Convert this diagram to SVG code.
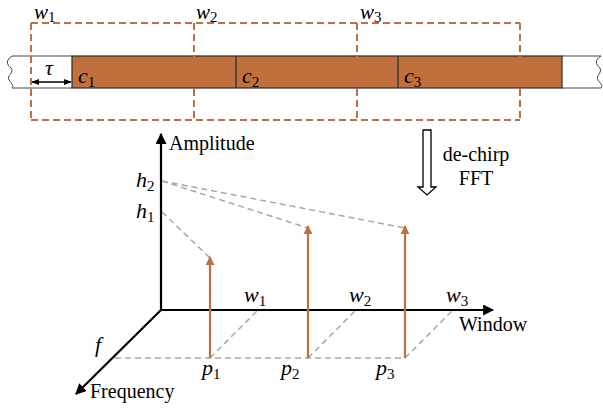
<svg xmlns="http://www.w3.org/2000/svg" width="603" height="411" viewBox="0 0 603 411">
<style>
.win{fill:none;stroke:#C07040;stroke-width:2;stroke-dasharray:7 4}
.gd{fill:none;stroke:#A8A8A8;stroke-width:1.5;stroke-dasharray:6 4}
.ax{stroke:#000;stroke-width:2.2;fill:none}
.or{stroke:#C07040;stroke-width:2.2;fill:none}
.m{font-family:"Liberation Serif","Times New Roman",serif;font-style:italic;font-size:22px;fill:#000}
.mt{font-size:21px}
.s{font-family:"Liberation Serif","Times New Roman",serif;font-style:normal;font-size:15px}
.t{font-family:"Liberation Serif","Times New Roman",serif;font-size:20px;fill:#000}
</style>
<defs>
<marker id="ab" viewBox="0 0 10 10" refX="9" refY="5" markerWidth="5" markerHeight="5" orient="auto-start-reverse" markerUnits="strokeWidth">
<path d="M0,0 L10,5 L0,10 z" fill="#000"/>
</marker>
<marker id="ao" viewBox="0 0 10 10" refX="9" refY="5" markerWidth="4" markerHeight="5" orient="auto" markerUnits="strokeWidth">
<path d="M0,0 L10,5 L0,10 z" fill="#C07040"/>
</marker>
<marker id="at" viewBox="0 0 10 10" refX="9" refY="5" markerWidth="5" markerHeight="5" orient="auto-start-reverse" markerUnits="strokeWidth">
<path d="M0,1 L10,5 L0,9 z" fill="#000"/>
</marker>
</defs>
<rect width="603" height="411" fill="#fff"/>

<g id="signal">
<path d="M12,56 H72 M12,88 H72 M562,56 H601 M562,88 H601" stroke="#444" stroke-width="1.2" fill="none"/>
<path d="M12,56 C6,60 6,64 11,68 C15,72 6,76 9,80 C12,84 14,86 12,88" stroke="#444" stroke-width="1" fill="none"/>
<path d="M601,56 C595,60 595,64 600,68 C603,72 595,76 598,80 C601,84 603,86 601,88" stroke="#444" stroke-width="1" fill="none"/>
<rect x="72" y="56" width="490" height="32" fill="#BF703C" stroke="#2a2a2a" stroke-width="1.2"/>
<path d="M236,56 V88 M398,56 V88" stroke="#2a2a2a" stroke-width="1.2"/>
<text class="m" x="78" y="83">c<tspan class="s" dy="4">1</tspan></text>
<text class="m" x="242" y="83">c<tspan class="s" dy="4">2</tspan></text>
<text class="m" x="404" y="83">c<tspan class="s" dy="4">3</tspan></text>
</g>

<g id="tau">
<line x1="32" y1="82" x2="71" y2="82" stroke="#000" stroke-width="1.6" marker-start="url(#at)" marker-end="url(#at)"/>
<text class="m" x="45" y="75">τ</text>
</g>

<g id="windows">
<path class="win" d="M31,23 H520 M31,120 H520 M31,23 V120 M194,23 V120 M357,23 V120 M520,23 V120"/>
<text class="m mt" x="34" y="19">w<tspan class="s" dy="3">1</tspan></text>
<text class="m mt" x="196" y="19">w<tspan class="s" dy="3">2</tspan></text>
<text class="m mt" x="360" y="19">w<tspan class="s" dy="3">3</tspan></text>
</g>

<g id="dechirp">
<polygon points="423,130 431,130 431,187 436,187 427,195 418,187 423,187" fill="#fff" stroke="#000" stroke-width="1.3"/>
<text class="t" x="476" y="161" text-anchor="middle">de-chirp</text>
<text class="t" x="476" y="185" text-anchor="middle">FFT</text>
</g>

<g id="connectors">
<path class="gd" d="M162,181 L405,228 M162,181 L308,228 M162,212 L210,258"/>
<path class="gd" d="M115,358 H405 M210,358 L258,310 M308,358 L356,310 M405,358 L453,310"/>
<line class="ax" x1="161" y1="311" x2="161" y2="134" marker-end="url(#ab)"/>
<line class="ax" x1="160" y1="310" x2="493" y2="310" marker-end="url(#ab)"/>
<line class="ax" x1="161" y1="310" x2="76" y2="394" marker-end="url(#ab)"/>
<line class="or" x1="210" y1="358" x2="210" y2="257" marker-end="url(#ao)"/>
<line class="or" x1="308" y1="358" x2="308" y2="226" marker-end="url(#ao)"/>
<line class="or" x1="405" y1="358" x2="405" y2="226" marker-end="url(#ao)"/>
</g>

<g id="labels">
<text class="t" x="169" y="150">Amplitude</text>
<text class="t" x="459" y="331">Window</text>
<text class="t" x="90" y="398">Frequency</text>
<text class="m" x="136" y="187">h<tspan class="s" dy="4">2</tspan></text>
<text class="m" x="136" y="218">h<tspan class="s" dy="4">1</tspan></text>
<text class="m" x="95" y="352">f</text>
<text class="m" x="244" y="302">w<tspan class="s" dy="4">1</tspan></text>
<text class="m" x="349" y="302">w<tspan class="s" dy="4">2</tspan></text>
<text class="m" x="446" y="302">w<tspan class="s" dy="4">3</tspan></text>
<text class="m" x="202" y="375">p<tspan class="s" dy="4">1</tspan></text>
<text class="m" x="281" y="375">p<tspan class="s" dy="4">2</tspan></text>
<text class="m" x="376" y="375">p<tspan class="s" dy="4">3</tspan></text>
</g>
</svg>
